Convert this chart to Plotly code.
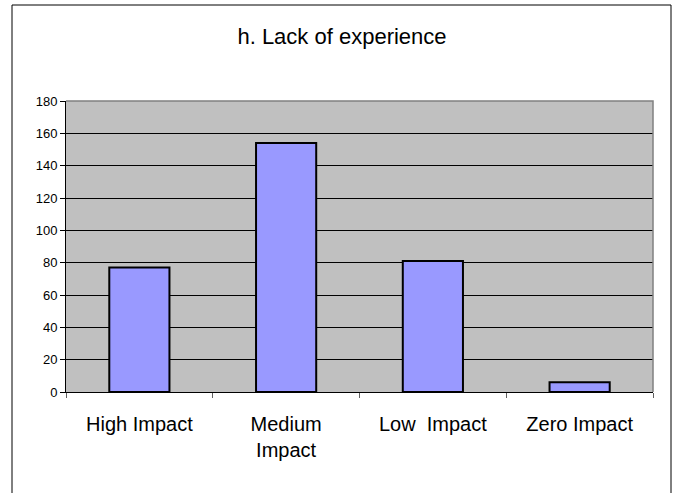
import plotly.graph_objects as go

categories = ["High Impact", "Medium<br>Impact", "Low  Impact", "Zero Impact"]
values = [77, 154, 81, 6]
y_ticks = [0, 20, 40, 60, 80, 100, 120, 140, 160, 180]
title_text = "h. Lack of experience"

W, H = 676, 493
ML, MR, MT, MB = 66, 23, 101, 101
PW, PH = W - ML - MR, H - MT - MB

def px_to_paper_x(px):
    return (px - ML) / PW

def px_to_paper_y(py):
    return (H - MB - py) / PH

fig = go.Figure(
    go.Bar(
        x=categories,
        y=values,
        marker=dict(color="#9999FF", line=dict(color="black", width=2)),
    )
)

fig.update_layout(
    width=W,
    height=H,
    margin=dict(l=ML, r=MR, t=MT, b=MB),
    paper_bgcolor="white",
    plot_bgcolor="#C0C0C0",
    bargap=0.59,
    showlegend=False,
    font=dict(family="Liberation Sans, Arial, sans-serif", color="black"),
    title=dict(
        text=title_text,
        x=342 / W,
        xref="container",
        xanchor="center",
        y=1 - 36 / H,
        yref="container",
        yanchor="middle",
        font=dict(size=22, color="black"),
    ),
    xaxis=dict(
        showline=True,
        linecolor="black",
        linewidth=1,
        ticks="outside",
        tickson="boundaries",
        ticklen=5,
        tickcolor="#606060",
        tickfont=dict(size=20),
        ticklabelstandoff=14,
        showgrid=False,
        fixedrange=True,
    ),
    yaxis=dict(
        range=[0, 180],
        tickvals=y_ticks,
        showline=True,
        linecolor="black",
        linewidth=1,
        ticks="outside",
        ticklen=5,
        tickcolor="black",
        tickfont=dict(size=13),
        showgrid=True,
        gridcolor="black",
        gridwidth=1,
        zeroline=False,
        fixedrange=True,
    ),
    shapes=[
        dict(
            type="path",
            xref="paper",
            yref="paper",
            path="M 0,1 L 1,1 L 1,0",
            line=dict(color="#808080", width=1.5),
            layer="above",
        ),
        dict(
            type="rect",
            xref="paper",
            yref="paper",
            x0=px_to_paper_x(12),
            x1=px_to_paper_x(671),
            y0=px_to_paper_y(500),
            y1=px_to_paper_y(5),
            line=dict(color="black", width=1),
            fillcolor="rgba(0,0,0,0)",
            layer="below",
        ),
    ],
)

fig.write_html(
    "out.html",
    config={"displayModeBar": False},
    post_script="document.body.style.margin='0';document.body.style.overflow='hidden';",
)
